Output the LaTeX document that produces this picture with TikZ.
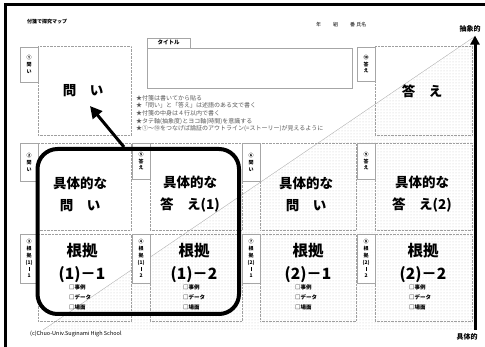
\documentclass[tikz,border=0pt]{standalone}
\usepackage{fontspec}
\setmainfont{Noto Sans CJK JP}
\usetikzlibrary{arrows.meta,patterns,positioning}

\begin{document}
\begin{tikzpicture}[x=1pt,y=-1pt,
  cell/.style={draw=gray!75, densely dotted, anchor=north west, inner sep=0pt},
  tag/.style={draw=gray!70, fill=white, anchor=north west, inner sep=0pt,
    minimum width=18pt, align=center, font=\bfseries\fontsize{5}{6.8}\selectfont},
  big/.style={align=center, font=\bfseries\fontsize{13.5}{22}\selectfont},
  basis/.style={align=center, font=\bfseries\fontsize{15.5}{23}\selectfont},
  checks/.style={align=left, font=\bfseries\fontsize{5.5}{10}\selectfont},
  small/.style={inner sep=0pt, font=\fontsize{5}{6}\selectfont}]
\useasboundingbox (0,0) rectangle (485,347);

% frame
\draw[line width=3pt] (5,347) -- (5,5) -- (485,5);

% concrete/abstract area
\fill[pattern=dots, pattern color=gray!45] (43,330) -- (474,37) -- (474,330) -- cycle;
\draw[gray!60] (43,330) -- (474,37);

% header
\node[small, font=\bfseries\fontsize{5}{6}\selectfont, anchor=west] (head) at (27,22) {付箋で探究マップ};
\node[small, anchor=west] (name) at (316,25) {年\hspace{12pt}組\hspace{12pt}番 氏名};
\node[small, font=\fontsize{5.5}{6}\selectfont, anchor=west] (copy) at (30,334) {(c)Chuo-Univ.Suginami High School};

% title box
\node[draw=gray!70, anchor=north west, minimum width=205pt, minimum height=40pt] (title) at (147,48) {};
\node[draw=gray!70, anchor=south west, inner sep=0pt, minimum width=43pt, minimum height=10pt,
  font=\bfseries\fontsize{5.5}{6}\selectfont] (tab) at (title.north west) {タイトル};

% notes
\node[anchor=north west, inner sep=0pt, align=left, text=black!65,
  font=\fontsize{6}{7.6}\selectfont] (notes) at (136,95)
  {★付箋は書いてから貼る\\
   ★「問い」と「答え」は述語のある文で書く\\
   ★付箋の中身は４行以内で書く\\
   ★タテ軸(抽象度)とヨコ軸(時間)を意識する\\
   ★①～⑩をつなげば論証のアウトライン(=ストーリー)が見えるように};

% row 1
\node[cell, minimum width=93pt, minimum height=89pt] (c1) at (38,46) {};
\node[cell, minimum width=97pt, minimum height=89pt] (c10) at (375,46) {};
\node[tag, minimum height=35pt] (t1) at (20,47) {①\\問\\い};
\node[tag, minimum height=34pt] (t10) at (357,47) {⑩\\答\\え};
\node[big] (q1) at (83,91) {問　い};
\node[big] (a10) at (422,91) {答　え};

% row 2
\node[cell, minimum width=93pt, minimum height=87pt] (c2) at (38,143) {};
\node[cell, minimum width=92pt, minimum height=87pt] (c5) at (150,143) {};
\node[cell, minimum width=96pt, minimum height=87pt] (c6) at (260,143) {};
\node[cell, minimum width=97pt, minimum height=87pt] (c9) at (375,143) {};
\node[tag, minimum height=38pt] (t2) at (20,143) {②\\問\\い};
\node[tag, minimum height=36pt] (t5) at (132,143) {⑤\\答\\え};
\node[tag, minimum height=38pt] (t6) at (242,143) {⑥\\問\\い};
\node[tag, minimum height=36pt] (t9) at (357,143) {⑨\\答\\え};
\node[big] (q2) at (80,194) {具体的な\\問　い};
\node[big] (a5) at (190,194) {具体的な\\答　え(1)};
\node[big] (q6) at (306,194) {具体的な\\問　い};
\node[big] (a9) at (422,194) {具体的な\\答　え(2)};

% row 3
\node[cell, minimum width=93pt, minimum height=87pt] (c3) at (38,234) {};
\node[cell, minimum width=92pt, minimum height=87pt] (c4) at (150,234) {};
\node[cell, minimum width=96pt, minimum height=87pt] (c7) at (260,234) {};
\node[cell, minimum width=97pt, minimum height=87pt] (c8) at (375,234) {};
\node[tag, minimum height=49pt] (t3) at (20,234) {③\\根\\拠\\(1)\\\rule{0.4pt}{4pt}\\1};
\node[tag, minimum height=49pt] (t4) at (132,234) {④\\根\\拠\\(1)\\\rule{0.4pt}{4pt}\\2};
\node[tag, minimum height=49pt] (t7) at (242,234) {⑦\\根\\拠\\(2)\\\rule{0.4pt}{4pt}\\1};
\node[tag, minimum height=49pt] (t8) at (357,234) {⑧\\根\\拠\\(2)\\\rule{0.4pt}{4pt}\\2};
\node[basis] (b3) at (82,263) {根拠\\(1)－1};
\node[basis] (b4) at (194,263) {根拠\\(1)－2};
\node[basis] (b7) at (308,263) {根拠\\(2)－1};
\node[basis] (b8) at (423,263) {根拠\\(2)－2};
\node[checks] (k3) at (80,297) {□事例\\□データ\\□場面};
\node[checks] (k4) at (194,297) {□事例\\□データ\\□場面};
\node[checks] (k7) at (306,297) {□事例\\□データ\\□場面};
\node[checks] (k8) at (420,297) {□事例\\□データ\\□場面};

% specific question + answer group
\draw[line width=4pt, rounded corners=20pt] (37.5,149) rectangle (239,314);
\coordinate (from) at (124,147);
\coordinate (tip) at (90,106);
\draw[line width=3pt, -{Triangle[length=12pt,width=12pt]}] (from) -- (tip);

% axis
\node[inner sep=0pt, font=\bfseries\fontsize{7}{8}\selectfont] (abs) at (470,29) {抽象的};
\node[inner sep=0pt, font=\bfseries\fontsize{7}{8}\selectfont] (conc) at (467,337) {具体的};
\coordinate (bottom) at (475,330);
\draw[line width=3pt, -{Triangle[length=9pt,width=9pt]}] (bottom) -- ([yshift=-3pt]abs.south -| bottom);
\end{tikzpicture}
\end{document}
